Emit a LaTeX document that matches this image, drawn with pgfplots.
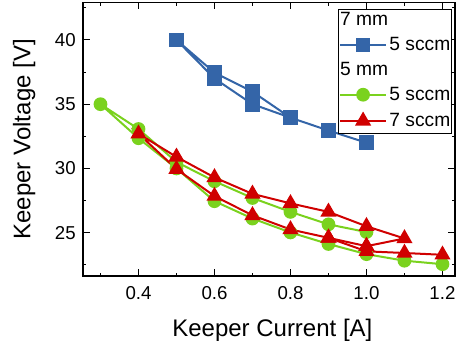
\documentclass[border=0pt]{standalone}
\usepackage{fontspec}
\setmainfont{Liberation Sans}
\usepackage{pgfplots}
\pgfplotsset{compat=1.18}
\definecolor{cblue}{RGB}{52,101,168}
\definecolor{cgreen}{RGB}{122,210,30}
\definecolor{cred}{RGB}{208,0,0}
\begin{document}
\begin{tikzpicture}
\begin{axis}[
  at={(0,0)}, anchor=south west,
  width=279pt, height=205pt, scale only axis,
  xmin=0.254, xmax=1.233, ymin=21.63, ymax=42.9,
  xtick={0.4,0.6,0.8,1.0,1.2}, ytick={25,30,35,40},
  minor xtick={0.3,0.5,0.7,0.9,1.1},
  minor ytick={22.5,27.5,32.5,37.5,42.5},
  xtick pos=both, ytick pos=both,
  tick align=inside,
  major tick length=5pt, minor tick length=2.5pt,
  tick style={black, line width=0.8pt},
  axis line style={black, line width=0.9pt},
  /pgf/number format/assume math mode=true,
  xticklabel style={/pgf/number format/fixed, /pgf/number format/fixed zerofill, /pgf/number format/precision=1},
  tick label style={font=\fontsize{14}{16}\selectfont, inner sep=0pt},
  xticklabel style={yshift=-7.5pt},
  yticklabel style={xshift=-5.25pt},
  xlabel={Keeper Current [A]},
  ylabel={Keeper Voltage [V]},
  label style={font=\fontsize{18}{21}\selectfont, inner sep=0pt},
  xlabel style={at={(axis description cs:0.509,-0.157)}, anchor=north},
  ylabel style={at={(axis description cs:-0.189,0.5)}, anchor=north},
  legend style={at={(axis description cs:0.992,0.977)}, anchor=north east,
    draw=black, line width=0.6pt, fill=white,
    font=\fontsize{14.4}{16}\selectfont,
    inner xsep=0pt, inner ysep=2.5pt, row sep=6.2pt,
    nodes={inner xsep=1pt, inner ysep=1pt}},
  legend cell align=left,
  legend image code/.code={\draw[mark repeat=2,mark phase=2,#1] plot coordinates {(0pt,0pt) (17.5pt,0pt) (35pt,0pt)};},
]
\addlegendimage{legend image code/.code={\node[anchor=west,inner sep=0pt,font=\fontsize{14.4}{16}\selectfont] at (0pt,0pt) {7 mm};}}
\addlegendentry{}
\addplot[cblue, line width=1.5pt, mark=square*, mark size=4.75pt, mark options={solid}]
coordinates {(0.5,40) (0.6,37.45) (0.7,35.97) (0.8,33.95) (0.9,32.95) (1.0,32.0) (0.9,32.95) (0.8,33.95) (0.7,35.0) (0.6,37.0) (0.5,40)};
\addlegendentry{5 sccm}
\addlegendimage{legend image code/.code={\node[anchor=west,inner sep=0pt,font=\fontsize{14.4}{16}\selectfont] at (0pt,0pt) {5 mm};}}
\addlegendentry{}
\addplot[cgreen, line width=1.5pt, mark=*, mark size=4.4pt, mark options={solid}]
coordinates {(1.0,25.05) (0.9,25.65) (0.8,26.62) (0.7,27.7) (0.6,29.0) (0.5,30.5) (0.4,33.07) (0.3,35.0) (0.4,32.35) (0.5,30.0) (0.6,27.45) (0.7,26.1) (0.8,25.02) (0.9,24.12) (1.0,23.33) (1.1,22.82) (1.2,22.55)};
\addlegendentry{5 sccm}
\addplot[cred, line width=1.5pt, mark=triangle*, mark size=5.5pt, mark options={solid}]
coordinates {(1.0,23.95) (1.1,24.55) (1.0,25.5) (0.9,26.62) (0.8,27.28) (0.7,28.02) (0.6,29.3) (0.5,30.9) (0.4,32.7) (0.5,29.95) (0.6,27.85) (0.7,26.35) (0.8,25.25) (0.9,24.6) (1.0,23.95)};
\addlegendentry{7 sccm}
\addplot[cred, line width=1.5pt, mark=triangle*, mark size=5.5pt, mark options={solid}, forget plot]
coordinates {(0.9,24.6) (1.0,23.55) (1.1,23.42) (1.2,23.28)};
\end{axis}
\path (-62.25pt,-53.25pt) rectangle (279.75pt,207pt);
\end{tikzpicture}
\end{document}
